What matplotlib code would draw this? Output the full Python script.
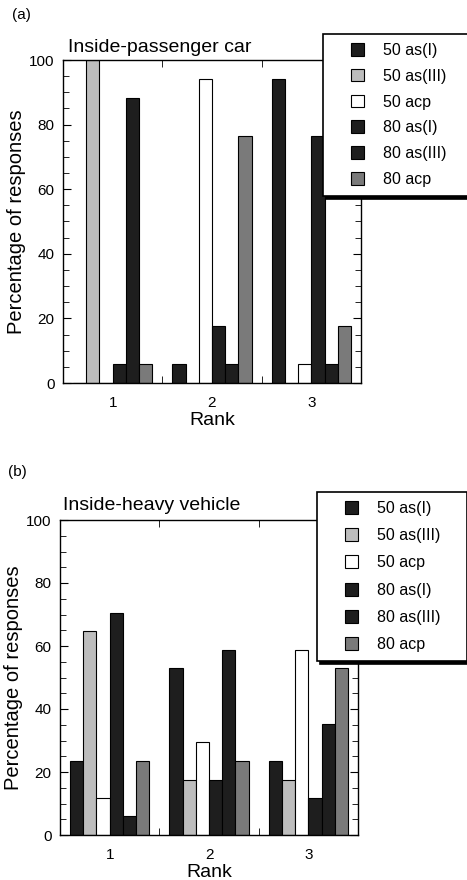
import numpy as np
import matplotlib
matplotlib.use("Agg")
import matplotlib.pyplot as plt
from matplotlib.ticker import MultipleLocator, FixedLocator
from matplotlib.legend_handler import HandlerPatch
from matplotlib.patches import Rectangle

plt.rcParams['font.family'] = ['Liberation Sans', 'DejaVu Sans']

# data: percentage of responses per rank (n = 17 listeners)
ranks = [1, 2, 3]
series = ['50 as(I)', '50 as(III)', '50 acp', '80 as(I)', '80 as(III)', '80 acp']

car_50_as1 = [0.0, 5.9, 94.1]
car_50_as3 = [100.0, 0.0, 0.0]
car_50_acp = [0.0, 94.1, 5.9]
car_80_as1 = [5.9, 17.6, 76.5]
car_80_as3 = [88.2, 5.9, 5.9]
car_80_acp = [5.9, 76.5, 17.6]

heavy_50_as1 = [23.5, 52.9, 23.5]
heavy_50_as3 = [64.7, 17.6, 17.6]
heavy_50_acp = [11.8, 29.4, 58.8]
heavy_80_as1 = [70.6, 17.6, 11.8]
heavy_80_as3 = [5.9, 58.8, 35.3]
heavy_80_acp = [23.5, 23.5, 52.9]

colors = ['#1e1e1e', '#bdbdbd', 'white', '#1e1e1e', '#1e1e1e', '#7a7a7a']

W, H = 467, 880
fig = plt.figure(figsize=(W / 100, H / 100), dpi=100)


# square legend key pushed to the right end of the handle box
def right_square(legend, orig_handle, xdescent, ydescent, width, height, fontsize):
    return Rectangle((-xdescent + width - height, -ydescent), height, height)


def panel(rect, data, title, letter, title_xy, letter_xy, leg_xy, spacing):
    ax = fig.add_axes(rect)
    x = np.arange(len(ranks)) + 1
    bw = 0.8 / len(series)
    bars = []
    for i, (vals, lab) in enumerate(zip(data, series)):
        b = ax.bar(x + (i - 2.5) * bw, vals, bw, color=colors[i],
                   edgecolor='black', linewidth=0.8, label=lab)
        bars.append(b)
    ax.set_xlim(0.5, 3.5)
    ax.set_ylim(0, 100)
    ax.xaxis.set_major_locator(FixedLocator(ranks))
    ax.xaxis.set_minor_locator(FixedLocator([1.5, 2.5]))
    ax.yaxis.set_major_locator(MultipleLocator(20))
    ax.yaxis.set_minor_locator(MultipleLocator(5))
    ax.tick_params(axis='x', which='major', length=0, labelsize=11, pad=9)
    ax.tick_params(axis='x', which='minor', direction='in', length=5,
                   top=True, bottom=True)
    ax.tick_params(axis='y', which='both', direction='in', left=True,
                   right=True, labelsize=11, pad=6)
    ax.tick_params(axis='y', which='major', length=6)
    ax.tick_params(axis='y', which='minor', length=4)
    for s in ax.spines.values():
        s.set_linewidth(1.0)
    ax.set_xlabel('Rank', fontsize=14, labelpad=2)
    ax.set_ylabel('Percentage of responses', fontsize=14.5, labelpad=2)
    fig.text(title_xy[0] / W, 1 - title_xy[1] / H, title, fontsize=14,
             va='center', ha='left')
    fig.text(letter_xy[0] / W, 1 - letter_xy[1] / H, letter, fontsize=11,
             va='center', ha='left')
    top = 1 - leg_xy[1] / H
    leg = ax.legend(handles=[b.patches[0] for b in bars], labels=series,
                    loc='upper left', mode='expand',
                    bbox_to_anchor=(leg_xy[0] / W, top - 0.3, 150 / W, 0.3),
                    bbox_transform=fig.transFigure, fontsize=11.5, frameon=True,
                    fancybox=False, shadow={'color': 'black', 'alpha': 1},
                    borderaxespad=0, borderpad=0.55, handlelength=2.03,
                    handleheight=0.85, handletextpad=1.2, labelspacing=spacing,
                    handler_map={Rectangle: HandlerPatch(patch_func=right_square)})
    leg.get_frame().set_edgecolor('black')
    leg.get_frame().set_linewidth(1.2)
    leg.set_zorder(5)
    return ax


panel([63 / W, 1 - 383 / H, 298 / W, 323 / H],
      [car_50_as1, car_50_as3, car_50_acp, car_80_as1, car_80_as3, car_80_acp],
      'Inside-passenger car', '(a)', (68, 47), (12, 15), (323, 34), 0.68)

panel([60 / W, 1 - 835 / H, 298 / W, 315 / H],
      [heavy_50_as1, heavy_50_as3, heavy_50_acp, heavy_80_as1, heavy_80_as3, heavy_80_acp],
      'Inside-heavy vehicle', '(b)', (63, 505), (8, 472), (317, 492), 0.77)

fig.savefig('out.png', dpi=100)
